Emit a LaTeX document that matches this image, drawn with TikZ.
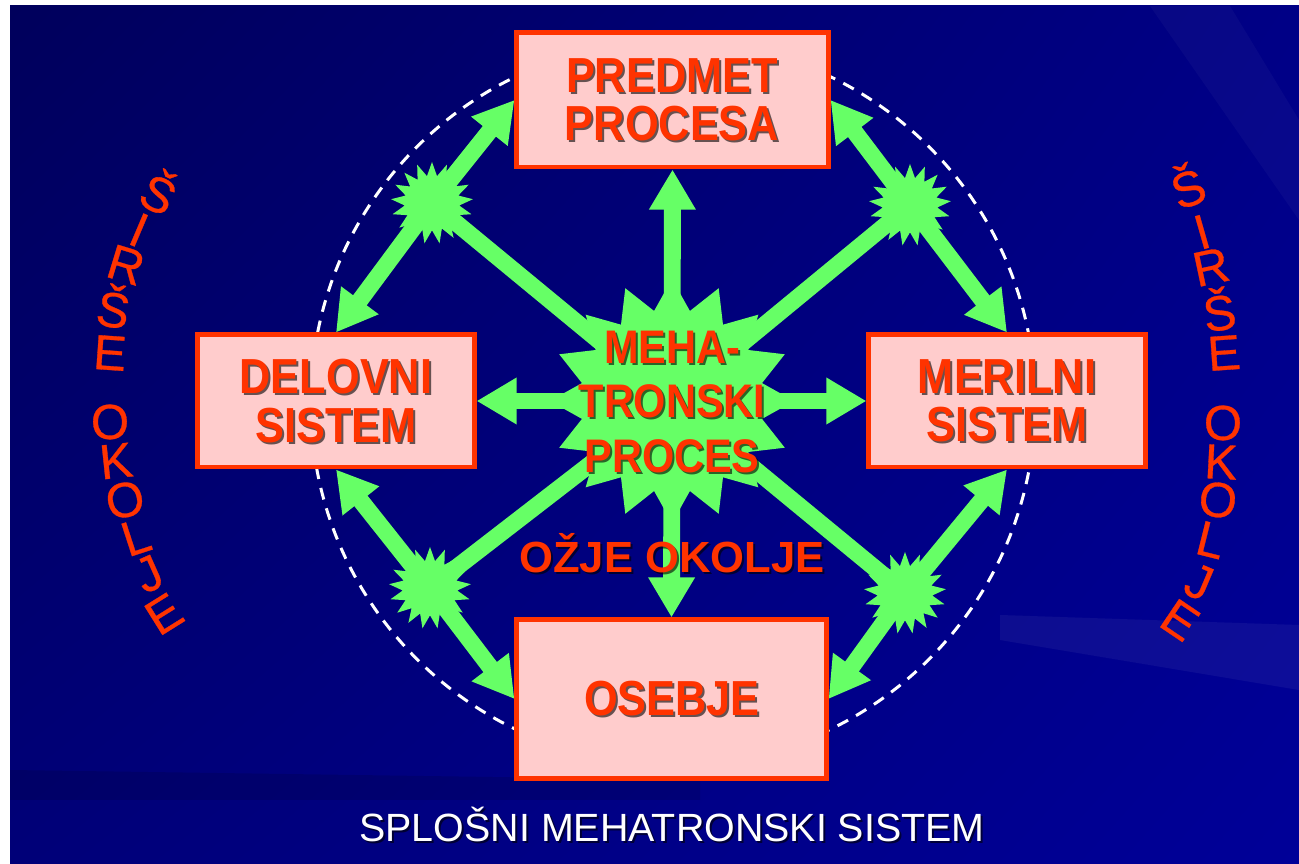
\documentclass[tikz,border=0pt]{standalone}
\usepackage{fontspec}
\setmainfont{Liberation Sans}
\newfontfamily\bxfont[FakeStretch=0.88]{Liberation Sans}
\newfontfamily\sdfont[FakeBold=0.6]{Liberation Sans}
\usetikzlibrary{arrows.meta,shapes.geometric,shadings}
\definecolor{bgA}{HTML}{00005C}
\definecolor{bgB}{HTML}{000086}
\definecolor{bgC}{HTML}{000078}
\definecolor{bgD}{HTML}{000098}
\definecolor{gr}{HTML}{66FF66}
\definecolor{rd}{HTML}{FF3300}
\definecolor{pk}{HTML}{FFCCCC}
\pgfdeclarelayer{back}
\pgfdeclarelayer{mid}
\pgfsetlayers{back,mid,main}
\newcommand\shtext[5]{%
  \node[#4, text=black, text opacity=0.6] (#1-sh) at ({#2+2},{#3+2}) {#5};
  \node[#4] (#1) at (#2,#3) {#5};}
\begin{document}
\begin{tikzpicture}[x=0.01cm,y=-0.01cm,
  box/.style={draw=rd, line width=1.4pt, fill=pk, inner sep=0pt},
  btext/.style={text=rd, inner sep=0pt, align=center,
    font=\bxfont\bfseries\fontsize{14pt}{13.7pt}\selectfont},
  ctext/.style={text=rd, inner sep=0pt, align=center,
    font=\bxfont\bfseries\fontsize{13.4pt}{15.6pt}\selectfont},
  otext/.style={text=rd, inner sep=0pt, anchor=base,
    font=\bfseries\fontsize{12.4pt}{14pt}\selectfont},
  ttext/.style={text=white, inner sep=0pt, anchor=base,
    font=\fontsize{11.2pt}{12pt}\selectfont},
  stext/.style={text=rd, inner sep=0pt,
    font=\sdfont\fontsize{14pt}{14pt}\selectfont},
  bigstar/.style={star, star points=16, star point ratio=1.33, minimum size=2.44cm, inner sep=0pt, fill=gr},
  smallstar/.style={star, star points=17, star point ratio=1.5, minimum size=0.82cm, inner sep=0pt, fill=gr},
  garrow/.style={draw=gr, line width=4.8pt, -{Triangle[length=11.4pt, width=12.5pt]}},
  gline/.style={draw=gr, line width=4.8pt},
  ring/.style={draw=white, line width=0.85pt, dash pattern=on 3.4pt off 2.6pt}
]
\useasboundingbox (0,0) rectangle (1299,864);
\begin{pgfonlayer}{back}
\fill[white] (0,0) rectangle (1299,864);
\shade[upper left=bgA, upper right=bgB, lower left=bgC, lower right=bgD] (10,6) rectangle (1299,864);
\fill[white, opacity=0.05] (1000,615) -- (1299,625) -- (1299,690) -- (1000,640) -- cycle;
\fill[white, opacity=0.03] (1150,6) -- (1230,6) -- (1299,120) -- (1299,220) -- cycle;
\fill[black, opacity=0.12] (10,770) -- (700,780) -- (700,800) -- (10,800) -- cycle;
\draw[ring] (673,403) circle [radius=3.62cm];
\end{pgfonlayer}

% boxes
\node[box, minimum width=3.11cm, minimum height=1.34cm] (pred) at (672.5,100) {};
\node[box, minimum width=2.76cm, minimum height=1.32cm] (delo) at (336,401) {};
\node[box, minimum width=2.76cm, minimum height=1.32cm] (meri) at (1007,401) {};
\node[box, minimum width=3.09cm, minimum height=1.58cm] (oseb) at (671.5,699) {};

\begin{pgfonlayer}{mid}
\node[bigstar] (cs) at (672,401) {};
\node[smallstar] (tl) at (432,203) {};
\node[smallstar] (tr) at (910,205) {};
\node[smallstar] (bl) at (430,588) {};
\node[smallstar] (br) at (905,593) {};
\draw[gline] (cs.center) -- (tl.center);
\draw[gline] (cs.center) -- (tr.center);
\draw[gline] (cs.center) -- (bl.center);
\draw[gline] (cs.center) -- (br.center);
\draw[garrow] (cs.center) -- (pred.south);
\draw[garrow] (cs.center) -- (delo.east);
\draw[garrow] (cs.center) -- (meri.west);
\draw[garrow] (cs.center) -- (oseb.north);
\draw[garrow] (tl.center) -- (pred.west);
\draw[garrow] (tl.center) -- (delo.north);
\draw[garrow] (tr.center) -- (pred.east);
\draw[garrow] (tr.center) -- (meri.north);
\draw[garrow] (bl.center) -- (delo.south);
\draw[garrow] (bl.center) -- (oseb.west);
\draw[garrow] (br.center) -- (meri.south);
\draw[garrow] (br.center) -- (oseb.east);
\end{pgfonlayer}

% texts
\shtext{predt}{672}{100}{btext}{PREDMET\\PROCESA}
\shtext{delot}{336}{401}{btext}{DELOVNI\\SISTEM}
\shtext{merit}{1007}{401}{btext}{MERILNI\\SISTEM}
\shtext{osebt}{672}{699}{btext}{OSEBJE}
\shtext{mpt}{672}{402}{ctext}{MEHA-\\TRONSKI\\PROCES}
\shtext{ozje}{672}{573}{otext}{OŽJE OKOLJE}
\shtext{title}{672}{842}{ttext}{SPLOŠNI MEHATRONSKI SISTEM}

% side texts
\foreach \ch/\px/\py/\rt [count=\i] in {Š/160/191/-27, I/139/230/-23, R/126/265/-17, Š/114/306/-10, E/110/353/-4, O/110/422/0, K/116/461/6, O/125/500/12, L/136/537/18, J/149/574/24, E/164/614/32}
  \node[stext, rotate=\rt] (wl\i) at (\px,\py) {\ch};
\foreach \ch/\px/\py/\rt [count=\i] in {Š/1187/185/20, I/1202/232/16, R/1211/267/12, Š/1219/309/8, E/1224/353/4, O/1223/423/0, K/1221/462/-3, O/1218/500/-7, L/1211/540/-14, J/1199/582/-23, E/1180/620/-34}
  \node[stext, rotate=\rt] (wr\i) at (\px,\py) {\ch};
\end{tikzpicture}
\end{document}
